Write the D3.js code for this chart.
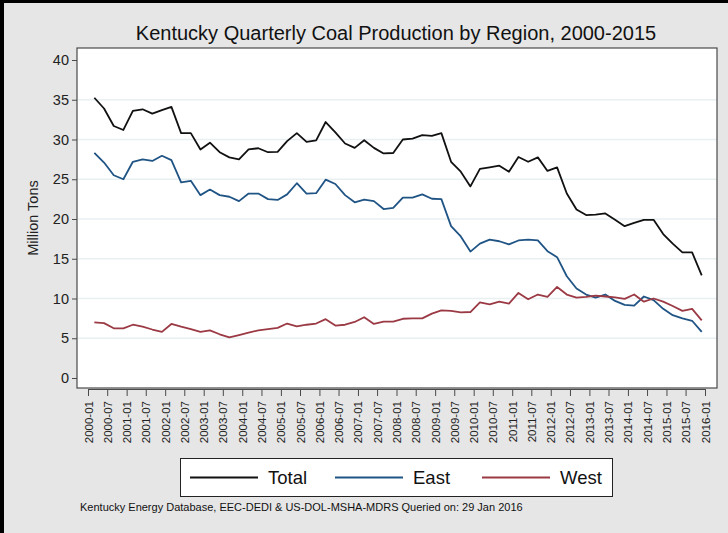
<!DOCTYPE html>
<html>
<head>
<meta charset="utf-8">
<script src="https://cdn.jsdelivr.net/npm/d3@7"></script>
<style>
  body { margin: 0; background: #e6e6e6; }
  svg { display: block; font-family: "Liberation Sans", Arial, sans-serif; }
</style>
</head>
<body>
<svg class="chart"></svg>
<script>
var width = 728;
var height = 533;

// plot region (white box) and inner data range
var plot = { left: 77, right: 717, top: 48, bottom: 388 };

// quarterly production, million tons, 2000 Q1 .. 2015 Q4
var total = [35.25, 33.9, 31.7, 31.2, 33.6, 33.8, 33.25, 33.7, 34.1, 30.8, 30.8, 28.75, 29.6, 28.4, 27.75, 27.5, 28.75,
    28.9, 28.4, 28.45, 29.8, 30.8, 29.7, 29.9, 32.2, 30.9, 29.5, 28.95, 29.9, 28.95, 28.25, 28.3, 30.0,
    30.1, 30.55, 30.45, 30.8, 27.2, 25.95, 24.1, 26.3, 26.5, 26.7, 25.95, 27.8, 27.2, 27.75, 26.05, 26.5,
    23.2, 21.2, 20.5, 20.55, 20.7, 19.9, 19.1, 19.5, 19.9, 19.9, 18.1, 16.9, 15.8, 15.8, 12.9];

var east = [28.33, 27.1, 25.5, 25.0, 27.2, 27.5, 27.3, 27.95, 27.4, 24.6, 24.8, 23.0, 23.7, 23.0, 22.8, 22.25, 23.2,
    23.2, 22.5, 22.4, 23.1, 24.5, 23.2, 23.25, 24.95, 24.4, 23.0, 22.1, 22.45, 22.25, 21.25, 21.4, 22.7,
    22.7, 23.1, 22.55, 22.5, 19.1, 17.8, 15.9, 16.9, 17.4, 17.2, 16.8, 17.3, 17.4, 17.3, 15.95, 15.2,
    12.8, 11.25, 10.5, 10.1, 10.5, 9.7, 9.2, 9.1, 10.25, 9.8, 8.7, 7.9, 7.5, 7.2, 5.8];

var west = [7.0, 6.9, 6.25, 6.25, 6.7, 6.45, 6.1, 5.8, 6.8, 6.45, 6.15, 5.8, 6.0, 5.5, 5.1, 5.4, 5.7,
    6.0, 6.15, 6.3, 6.85, 6.5, 6.7, 6.85, 7.4, 6.6, 6.7, 7.05, 7.65, 6.8, 7.1, 7.1, 7.45,
    7.5, 7.5, 8.1, 8.5, 8.45, 8.25, 8.3, 9.5, 9.25, 9.6, 9.35, 10.7, 9.9, 10.5, 10.2, 11.45,
    10.5, 10.1, 10.2, 10.35, 10.25, 10.15, 9.95, 10.5, 9.6, 10.0, 9.6, 9.05, 8.45, 8.7, 7.25];

var seriesNames = ["Total", "East", "West"];
var seriesColors = ["#111111", "#1f5485", "#9b3a44"];
var yTicks = [0, 5, 10, 15, 20, 25, 30, 35, 40];

// each quarter is stored at its last month (2000-03, 2000-06, ...)
var dates = total.map(function(d, i) {
    return new Date(2000 + Math.floor(i / 4), (i % 4) * 3 + 2, 1);
});

var x = d3.scaleTime()
    .domain([new Date(2000, 0, 1), new Date(2016, 0, 1)])
    .range([88, 705]);

var y = d3.scaleLinear()
    .domain([0, 40])
    .range([378, 60]);

var chart = d3.select(".chart")
    .attr("width", width)
    .attr("height", height);

// outer background + black frame on left/top
chart.append("rect").attr("width", width).attr("height", height).attr("fill", "#e6e6e6");
chart.append("rect").attr("x", 0).attr("y", 0).attr("width", width).attr("height", 3).attr("fill", "#000");
chart.append("rect").attr("x", 0).attr("y", 0).attr("width", 4).attr("height", height).attr("fill", "#000");

chart.append("text")
    .attr("x", 396)
    .attr("y", 40)
    .attr("text-anchor", "middle")
    .attr("font-size", 20)
    .attr("fill", "#111")
    .text("Kentucky Quarterly Coal Production by Region, 2000-2015");

chart.append("rect")
    .attr("x", plot.left)
    .attr("y", plot.top)
    .attr("width", plot.right - plot.left)
    .attr("height", plot.bottom - plot.top)
    .attr("fill", "#fff");

// gridlines
chart.append("g")
    .selectAll("line")
    .data(yTicks.filter(function(d) { return d > 0 && d < 40; }))
    .enter()
    .append("line")
    .attr("x1", plot.left + 1)
    .attr("x2", plot.right)
    .attr("y1", function(d) { return y(d); })
    .attr("y2", function(d) { return y(d); })
    .attr("stroke", "#e9f0f2")
    .attr("stroke-width", 1.5);

chart.append("rect")
    .attr("x", plot.left)
    .attr("y", plot.top)
    .attr("width", plot.right - plot.left)
    .attr("height", plot.bottom - plot.top)
    .attr("fill", "none")
    .attr("stroke", "#4a4a4a")
    .attr("stroke-width", 1.2);

// y axis
var yAxis = chart.append("g")
    .attr("transform", "translate(" + plot.left + ",0)")
    .call(d3.axisLeft(y).tickValues(yTicks).tickSize(5).tickPadding(3));
yAxis.select(".domain").remove();
yAxis.selectAll(".tick line").attr("stroke", "#4a4a4a");
yAxis.selectAll("text").attr("font-size", 14.5).attr("fill", "#222").attr("font-family", "Liberation Sans, Arial, sans-serif");

chart.append("text")
    .attr("transform", "translate(38,218) rotate(-90)")
    .attr("text-anchor", "middle")
    .attr("font-size", 14.5)
    .attr("fill", "#222")
    .text("Million Tons");

// x axis
var xAxis = chart.append("g")
    .attr("transform", "translate(0," + (plot.bottom + 1) + ")")
    .call(d3.axisBottom(x)
        .ticks(d3.timeMonth.every(6))
        .tickFormat(d3.timeFormat("%Y-%m"))
        .tickSize(7)
        .tickSizeOuter(0));
xAxis.select(".domain").attr("stroke", "#4a4a4a");
xAxis.selectAll(".tick line").attr("stroke", "#4a4a4a");
xAxis.selectAll("text")
    .attr("font-size", 11.5)
    .attr("fill", "#222")
    .attr("font-family", "Liberation Sans, Arial, sans-serif")
    .attr("transform", "rotate(-90)")
    .attr("text-anchor", "end")
    .attr("x", -12)
    .attr("y", 0)
    .attr("dy", "0.35em");

// lines
var line = d3.line()
    .x(function(d, i) { return x(dates[i]); })
    .y(function(d) { return y(d); });

[total, east, west].forEach(function(s, k) {
    chart.append("path")
        .datum(s)
        .attr("fill", "none")
        .attr("stroke", seriesColors[k])
        .attr("stroke-width", 1.8)
        .attr("stroke-linejoin", "round")
        .attr("d", line);
});

// legend
var legend = chart.append("g");
legend.append("rect")
    .attr("x", 180.5)
    .attr("y", 458.5)
    .attr("width", 432)
    .attr("height", 38)
    .attr("fill", "#fff")
    .attr("stroke", "#222")
    .attr("stroke-width", 1);

var legX = [190, 335, 482];
seriesNames.forEach(function(n, k) {
    legend.append("line")
        .attr("x1", legX[k])
        .attr("x2", legX[k] + 68)
        .attr("y1", 477.5)
        .attr("y2", 477.5)
        .attr("stroke", seriesColors[k])
        .attr("stroke-width", 1.8);
    legend.append("text")
        .attr("x", legX[k] + 78)
        .attr("y", 484)
        .attr("font-size", 18.5)
        .attr("fill", "#111")
        .text(n);
});

chart.append("text")
    .attr("x", 80)
    .attr("y", 511)
    .attr("font-size", 11)
    .attr("fill", "#111")
    .text("Kentucky Energy Database, EEC-DEDI & US-DOL-MSHA-MDRS Queried on: 29 Jan 2016");
</script>
</body>
</html>
